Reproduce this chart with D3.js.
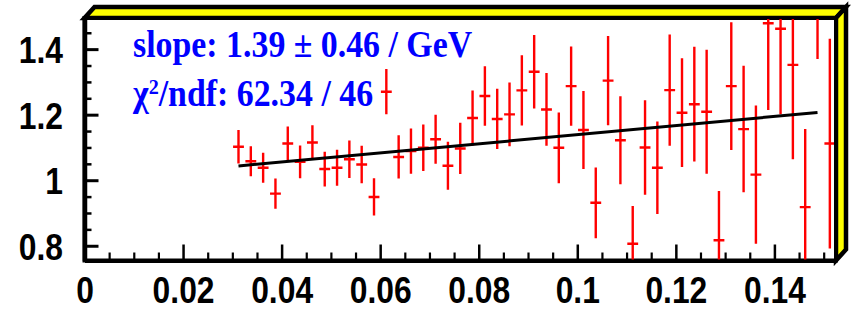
<!DOCTYPE html>
<html>
<head>
<meta charset="utf-8">
<script src="https://cdn.jsdelivr.net/npm/d3@7"></script>
<style>
  body { margin: 0; background: #fff; }
  svg { display: block; }
</style>
</head>
<body>
<svg></svg>
<script>
// bin centres and ratio values
let binCenters = [0.03125, 0.03375, 0.03625, 0.03875, 0.04125, 0.04375, 0.04625, 0.04875,
    0.05125, 0.05375, 0.05625, 0.05875, 0.06125, 0.06375, 0.06625, 0.06875,
    0.07125, 0.07375, 0.07625, 0.07875, 0.08125, 0.08375, 0.08625, 0.08875,
    0.09125, 0.09375, 0.09625, 0.09875, 0.10125, 0.10375, 0.10625, 0.10875,
    0.11125, 0.11375, 0.11625, 0.11875, 0.12125, 0.12375, 0.12625, 0.12875,
    0.13125, 0.13375, 0.13625, 0.13875, 0.14125, 0.14375, 0.14625, 0.14875, 0.15125];
let ratio = [1.102, 1.058, 1.038, 0.959, 1.112, 1.056, 1.115, 1.034,
    1.038, 1.064, 1.048, 0.949, 1.270, 1.071, 1.089, 1.099,
    1.125, 1.044, 1.097, 1.190, 1.257, 1.187, 1.201, 1.274,
    1.331, 1.216, 1.099, 1.287, 1.153, 0.931, 1.304, 1.122,
    0.806, 1.100, 1.038, 1.275, 1.206, 1.232, 1.209, 0.817,
    1.287, 1.156, 1.017, 1.479, 1.462, 1.352, 0.918, 1.650, 1.112];
let ratioErr = [0.051, 0.046, 0.046, 0.046, 0.052, 0.050, 0.053, 0.053,
    0.055, 0.057, 0.057, 0.057, 0.069, 0.066, 0.069, 0.071,
    0.075, 0.073, 0.078, 0.084, 0.091, 0.092, 0.097, 0.107,
    0.112, 0.111, 0.108, 0.121, 0.119, 0.108, 0.136, 0.134,
    0.115, 0.144, 0.141, 0.170, 0.166, 0.175, 0.189, 0.150,
    0.195, 0.193, 0.211, 0.265, 0.261, 0.288, 0.238, 0.280, 0.320];
let xErr = 0.0011;

// linear fit  p0 * (1 + slope * x)
let fitP0 = 1.0, fitSlope = 1.39, fitRange = [0.03125, 0.14875];

let xMajor = [0, 0.02, 0.04, 0.06, 0.08, 0.1, 0.12, 0.14],
    xLabels = ["0", "0.02", "0.04", "0.06", "0.08", "0.1", "0.12", "0.14"];
let yMajor = [0.8, 1, 1.2, 1.4],
    yLabels = ["0.8", "1", "1.2", "1.4"];

let svg = d3.select("svg").attr("width", 851).attr("height", 309),
    margin = {top: 18, right: 15, bottom: 48.5, left: 84.5},
    width = 851 - margin.left - margin.right,
    height = 309 - margin.top - margin.bottom,
    g = svg.append("g").attr("transform", "translate(" + margin.left + "," + margin.top + ")");

let x = d3.scaleLinear().domain([0, 0.1525]).range([0, width]),
    y = d3.scaleLinear().domain([0.755, 1.495]).range([height, 0]);

let labelFont = "'Liberation Sans', Arial, Helvetica, sans-serif",
    squeeze = "scale(0.86,1)";

// 3d-ish frame border, yellow on top and right
let dx = 10, dy = 11;
g.append("path")
    .attr("d", "M0,0L" + dx + "," + (-dy) + "L" + (width + dx) + "," + (-dy) + "L" + width + ",0Z")
    .attr("fill", "#ffff00").attr("stroke", "#000").attr("stroke-width", 4.5)
    .attr("stroke-linejoin", "miter");
g.append("path")
    .attr("d", "M" + width + ",0L" + (width + dx) + "," + (-dy) + "L" + (width + dx) + "," + (height - dy) + "L" + width + "," + height + "Z")
    .attr("fill", "#ffff00").attr("stroke", "#000").attr("stroke-width", 4.5)
    .attr("stroke-linejoin", "miter");
g.append("rect")
    .attr("width", width).attr("height", height)
    .attr("fill", "#fff").attr("stroke", "#000").attr("stroke-width", 4);

// minor ticks
let xMinor = d3.range(0, 0.1525, 0.005).filter(function(v) { return Math.round(v * 1000) % 20 !== 0; });
let yMinor = d3.range(0.85, 1.5, 0.05).filter(function(v) { return Math.round(v * 100) % 20 !== 0; });

let xMin = g.append("g")
    .attr("transform", "translate(0," + height + ")")
    .call(d3.axisBottom(x).tickValues(xMinor).tickSize(-8).tickFormat(""));
xMin.select(".domain").remove();
xMin.selectAll("line").attr("stroke-width", 2.2);

let yMin = g.append("g")
    .call(d3.axisLeft(y).tickValues(yMinor).tickSize(-7).tickFormat(""));
yMin.select(".domain").remove();
yMin.selectAll("line").attr("stroke-width", 2.5);

// major ticks and labels
let xAx = g.append("g")
    .attr("transform", "translate(0," + height + ")")
    .call(d3.axisBottom(x).tickValues(xMajor).tickSizeInner(-16).tickSizeOuter(0)
        .tickFormat(function(d, i) { return xLabels[i]; }));
xAx.attr("font-family", labelFont).attr("font-size", 37).attr("font-weight", "bold");
xAx.select(".domain").attr("stroke-width", 4);
xAx.selectAll("line").attr("stroke-width", 2.5);
xAx.selectAll("text")
    .attr("y", 42.5).attr("dy", null)
    .attr("transform", squeeze)
    .attr("fill", "#000");

let yAx = g.append("g")
    .call(d3.axisLeft(y).tickValues(yMajor).tickSizeInner(-14).tickSizeOuter(0)
        .tickFormat(function(d, i) { return yLabels[i]; }));
yAx.attr("font-family", labelFont).attr("font-size", 37).attr("font-weight", "bold");
yAx.select(".domain").attr("stroke-width", 4.5);
yAx.selectAll("line").attr("stroke-width", 3);
yAx.selectAll("text")
    .attr("x", -21.5 / 0.86).attr("dy", "0.36em")
    .attr("transform", squeeze)
    .attr("fill", "#000");

// clip the points to the frame
g.append("clipPath").attr("id", "plotclip")
    .append("rect").attr("x", 1).attr("y", 1).attr("width", width - 3).attr("height", height - 2);

let pts = binCenters.map(function(c, i) { return {x: c, v: ratio[i], e: ratioErr[i]}; });

let marks = g.append("g").attr("clip-path", "url(#plotclip)")
    .attr("stroke", "#ff0000").attr("stroke-width", 2.4);

marks.selectAll(".ebar")
    .data(pts)
    .enter().append("line")
    .attr("class", "ebar")
    .attr("x1", function(d) { return x(d.x); })
    .attr("x2", function(d) { return x(d.x); })
    .attr("y1", function(d) { return y(d.v - d.e); })
    .attr("y2", function(d) { return y(d.v + d.e); });

marks.selectAll(".xbar")
    .data(pts)
    .enter().append("line")
    .attr("class", "xbar")
    .attr("x1", function(d) { return x(d.x - xErr); })
    .attr("x2", function(d) { return x(d.x + xErr); })
    .attr("y1", function(d) { return y(d.v); })
    .attr("y2", function(d) { return y(d.v); });

// fit line
let line = d3.line()
    .x(function(d) { return x(d); })
    .y(function(d) { return y(fitP0 * (1 + fitSlope * d)); });

g.append("path")
    .datum(fitRange)
    .attr("d", line)
    .attr("fill", "none")
    .attr("stroke", "#000")
    .attr("stroke-width", 3);

// fit result text
let statFont = "'Liberation Serif', 'Times New Roman', Times, serif";

svg.append("text")
    .attr("transform", "translate(133,57) scale(0.915,1)")
    .attr("font-family", statFont).attr("font-weight", "bold").attr("font-size", 37)
    .attr("fill", "#0000ff")
    .text("slope: 1.39 \u00b1 0.46 / GeV");

let chi = svg.append("text")
    .attr("transform", "translate(133,106) scale(0.915,1)")
    .attr("font-family", statFont).attr("font-weight", "bold").attr("font-size", 37)
    .attr("fill", "#0000ff");
chi.append("tspan").text("\u03c7");
chi.append("tspan").attr("font-size", 22).attr("dy", -12).text("2");
chi.append("tspan").attr("dy", 12).text("/ndf: 62.34 / 46");
</script>
</body>
</html>
